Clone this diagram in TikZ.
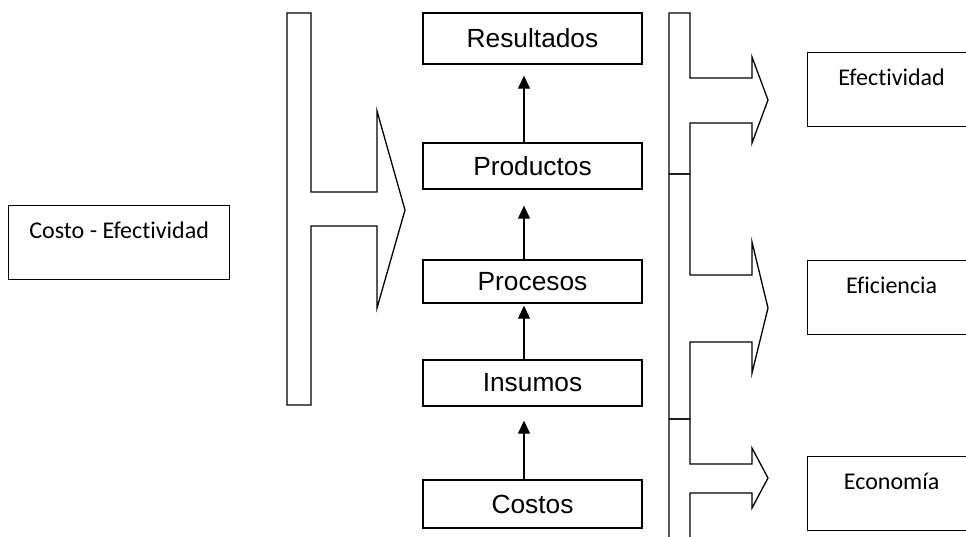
\documentclass[tikz,border=0pt]{standalone}
\usepackage{fontspec}
\setmainfont{Liberation Sans}
\newfontfamily\calibri[Ligatures=NoCommon]{Carlito}
\usetikzlibrary{arrows.meta}
\begin{document}
\begin{tikzpicture}[x=1pt,y=-1pt,line width=1.3pt,line join=miter,
  cbox/.style={draw,minimum width=219pt,minimum height=#1,inner sep=0pt,
    font=\fontsize{26.3}{30}\selectfont},
  sbox/.style={draw,anchor=north west,minimum width=#1,inner sep=0pt,
    text height=33pt,text depth=41pt,font=\calibri\fontsize{24}{28}\selectfont},
  arr/.style={-{Triangle[width=12pt,length=13pt]},line width=1.2pt},
  shp/.style={draw}]
\useasboundingbox (0,0) rectangle (966,536);
\clip (0,0) rectangle (966,536);

% centre column
\node[cbox=51pt] (res)  at (532.5,38.5) {Resultados};
\node[cbox=46pt] (prod) at (532.5,166)  {Productos};
\node[cbox=43pt] (proc) at (532.5,281.5){Procesos};
\node[cbox=46pt] (ins)  at (532.5,383)  {Insumos};
\node[cbox=48pt] (cost) at (532.5,504)  {Costos};

\draw[arr] ([xshift=-8.5pt]prod.north) -- ([xshift=-8.5pt,yshift=-11pt]res.south);
\draw[arr] ([xshift=-8.5pt]proc.north) -- ([xshift=-8.5pt,yshift=-16pt]prod.south);
\draw[arr] ([xshift=-8.5pt]ins.north)  -- ([xshift=-8.5pt,yshift=-2pt]proc.south);
\draw[arr] ([xshift=-8.5pt]cost.north) -- ([xshift=-8.5pt,yshift=-14pt]ins.south);

% side boxes
\node[sbox=221pt] (ce)  at (8,205)   {Costo - Efectividad};
\node[sbox=168pt] (efe) at (807,52)  {Efectividad};
\node[sbox=168pt] (efi) at (807,260) {Eficiencia};
\node[sbox=168pt] (eco) at (807,456) {Economía};

% left bracket arrow
\draw[shp] (287,13) -- (311,13) -- (311,192) -- (377,192) -- (377,111) -- (405,210)
  -- (377,308) -- (377,226) -- (311,226) -- (311,405) -- (287,405) -- cycle;

% right bracket arrows
\draw[shp] (669,13) -- (690,13) -- (690,78) -- (752,78) -- (752,57) -- (768,100)
  -- (752,143) -- (752,123) -- (690,123) -- (690,174) -- (669,174) -- cycle;
\draw[shp] (669,174) -- (690,174) -- (690,275) -- (752,275) -- (752,242) -- (768,308)
  -- (752,373) -- (752,342) -- (690,342) -- (690,419) -- (669,419) -- cycle;
\draw[shp] (669,419) -- (690,419) -- (690,464) -- (752,464) -- (752,448) -- (768,478)
  -- (752,508) -- (752,493) -- (690,493) -- (690,560) -- (669,560) -- cycle;
\end{tikzpicture}
\end{document}
